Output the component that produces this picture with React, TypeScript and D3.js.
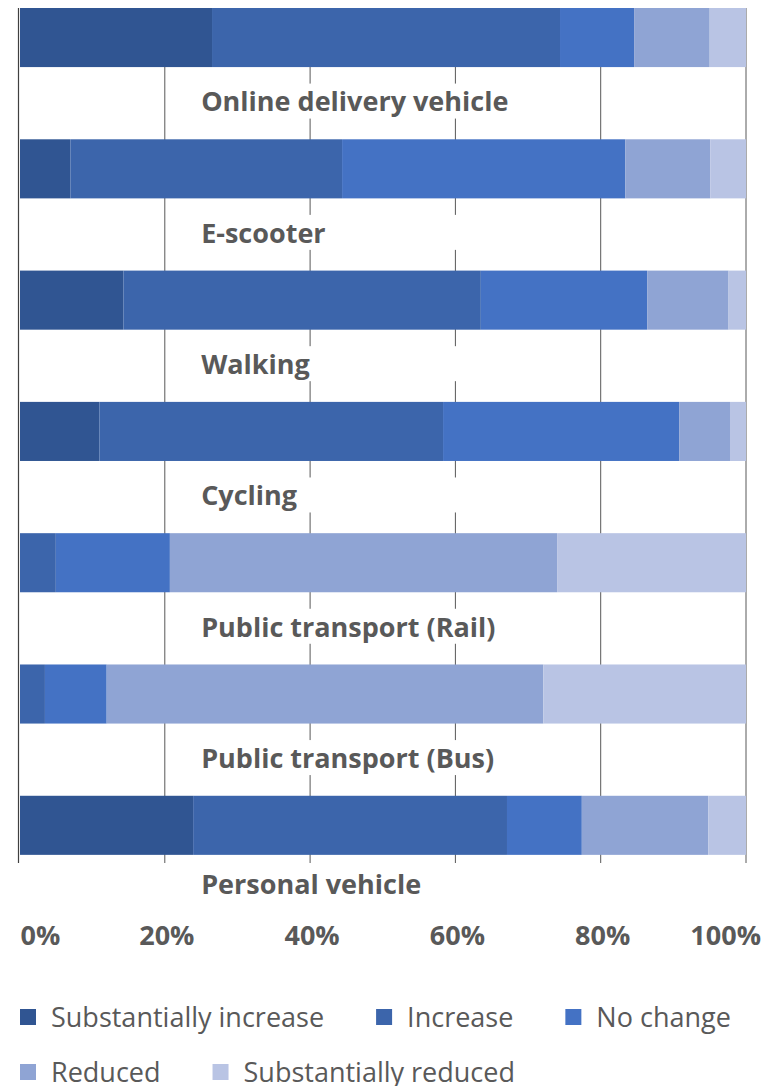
import React, { useEffect, useRef } from "react";
import * as d3 from "d3";

const categories = [
  "Online delivery vehicle",
  "E-scooter",
  "Walking",
  "Cycling",
  "Public transport (Rail)",
  "Public transport (Bus)",
  "Personal vehicle",
];
const seriesNames = [
  "Substantially increase",
  "Increase",
  "No change",
  "Reduced",
  "Substantially reduced",
];
const substantiallyIncrease = [26.5, 7.0, 14.3, 11.0, 0, 0, 23.9];
const increase = [47.9, 37.4, 49.2, 47.3, 5.0, 3.5, 43.2];
const noChange = [10.2, 39.0, 22.9, 32.5, 15.7, 8.5, 10.3];
const reduced = [10.4, 11.7, 11.2, 7.0, 53.3, 60.1, 17.4];
const substantiallyReduced = [5.0, 4.9, 2.4, 2.2, 26.0, 27.9, 5.2];
const tickValues = [0, 0.2, 0.4, 0.6, 0.8, 1.0];
const colors = ["#305592", "#3c65ab", "#4472c4", "#8fa4d4", "#b9c4e4"];

const W = 774;
const H = 1086;
const FONT = "'Open Sans', 'Noto Sans', sans-serif";
const TEXT = "#595959";

export default function App() {
  const ref = useRef<SVGSVGElement>(null);

  useEffect(() => {
    const svg = d3.select(ref.current);
    svg.selectAll("*").remove();

    const rows = categories.map((c, i) => ({
      cat: c,
      [seriesNames[0]]: substantiallyIncrease[i],
      [seriesNames[1]]: increase[i],
      [seriesNames[2]]: noChange[i],
      [seriesNames[3]]: reduced[i],
      [seriesNames[4]]: substantiallyReduced[i],
    }));
    const stacked = d3.stack<any>().keys(seriesNames)(rows);

    const x = d3.scaleLinear().domain([0, 100]).range([19.5, 746]);
    const plotTop = 8;
    const plotBottom = 863;
    const y = d3
      .scaleBand<string>()
      .domain(categories)
      .range([plotTop, plotBottom])
      .paddingInner(0.55)
      .paddingOuter(0.031)
      .align(0);
    const bw = y.bandwidth();

    // gridlines
    svg
      .append("g")
      .selectAll("line")
      .data(tickValues.slice(1))
      .join("line")
      .attr("x1", (d) => x(d * 100))
      .attr("x2", (d) => x(d * 100))
      .attr("y1", plotTop)
      .attr("y2", plotBottom)
      .attr("stroke", "#585858")
      .attr("stroke-width", 1);

    // axis line
    svg
      .append("line")
      .attr("x1", x(0) - 1)
      .attr("x2", x(0) - 1)
      .attr("y1", plotTop)
      .attr("y2", plotBottom)
      .attr("stroke", "#404040")
      .attr("stroke-width", 1.2);

    // bars
    svg
      .append("g")
      .selectAll("g")
      .data(stacked)
      .join("g")
      .attr("fill", (_d, i) => colors[i])
      .selectAll("rect")
      .data((d) => d)
      .join("rect")
      .attr("x", (d) => x(d[0]) + (d[0] === 0 ? 0.5 : 0))
      .attr("width", (d) => Math.max(0, x(d[1]) - x(d[0]) - (d[0] === 0 ? 0.5 : 0)))
      .attr("y", (d: any) => y(d.data.cat)!)
      .attr("height", bw);

    // category labels with white boxes
    const lab = svg
      .append("g")
      .selectAll("g")
      .data(categories)
      .join("g")
      .attr("transform", (d, i) =>
        `translate(0, ${y(d)! + bw + (i === categories.length - 1 ? 29 : 34.5)})`
      );
    lab
      .append("rect")
      .attr("x", x(23.5))
      .attr("width", x(69) - x(23.5))
      .attr("y", -18)
      .attr("height", 35)
      .attr("fill", "#ffffff");
    lab
      .append("text")
      .attr("x", x(25))
      .attr("dy", "0.36em")
      .attr("font-family", FONT)
      .attr("font-weight", 700)
      .attr("font-size", 27)
      .attr("fill", TEXT)
      .text((d) => d);

    // tick labels
    svg
      .append("g")
      .selectAll("text")
      .data(tickValues)
      .join("text")
      .attr("x", (d, i) =>
        i === 0 ? x(d * 100) + 1 : i === tickValues.length - 1 ? x(d * 100) + 15 : x(d * 100) + 2
      )
      .attr("y", 945)
      .attr("text-anchor", (_d, i) =>
        i === 0 ? "start" : i === tickValues.length - 1 ? "end" : "middle"
      )
      .attr("font-family", FONT)
      .attr("font-weight", 700)
      .attr("font-size", 27)
      .attr("fill", TEXT)
      .text((d) => `${Math.round(d * 100)}%`);

    // legend (flow layout)
    const legend = svg.append("g");
    const sq = 16;
    const textGap = 31;
    const itemGap = 52;
    const rowY = [1017, 1072];
    let cx = 20;
    let row = 0;
    seriesNames.forEach((name, i) => {
      const g = legend.append("g");
      g.append("rect")
        .attr("width", sq)
        .attr("height", sq)
        .attr("y", -sq / 2)
        .attr("fill", colors[i]);
      const t = g
        .append("text")
        .attr("x", textGap)
        .attr("dy", "0.36em")
        .attr("font-family", FONT)
        .attr("font-size", 27)
        .attr("fill", TEXT)
        .text(name);
      const tw = (t.node() as SVGTextElement).getComputedTextLength();
      const itemW = textGap + tw;
      if (cx + itemW > W && cx > 20) {
        row += 1;
        cx = 20;
      }
      g.attr("transform", `translate(${cx}, ${rowY[Math.min(row, rowY.length - 1)]})`);
      cx += itemW + itemGap;
    });
  }, []);

  return (
    <svg
      ref={ref}
      width={W}
      height={H}
      style={{ position: "absolute", left: 0, top: 0, background: "#fff" }}
    />
  );
}
